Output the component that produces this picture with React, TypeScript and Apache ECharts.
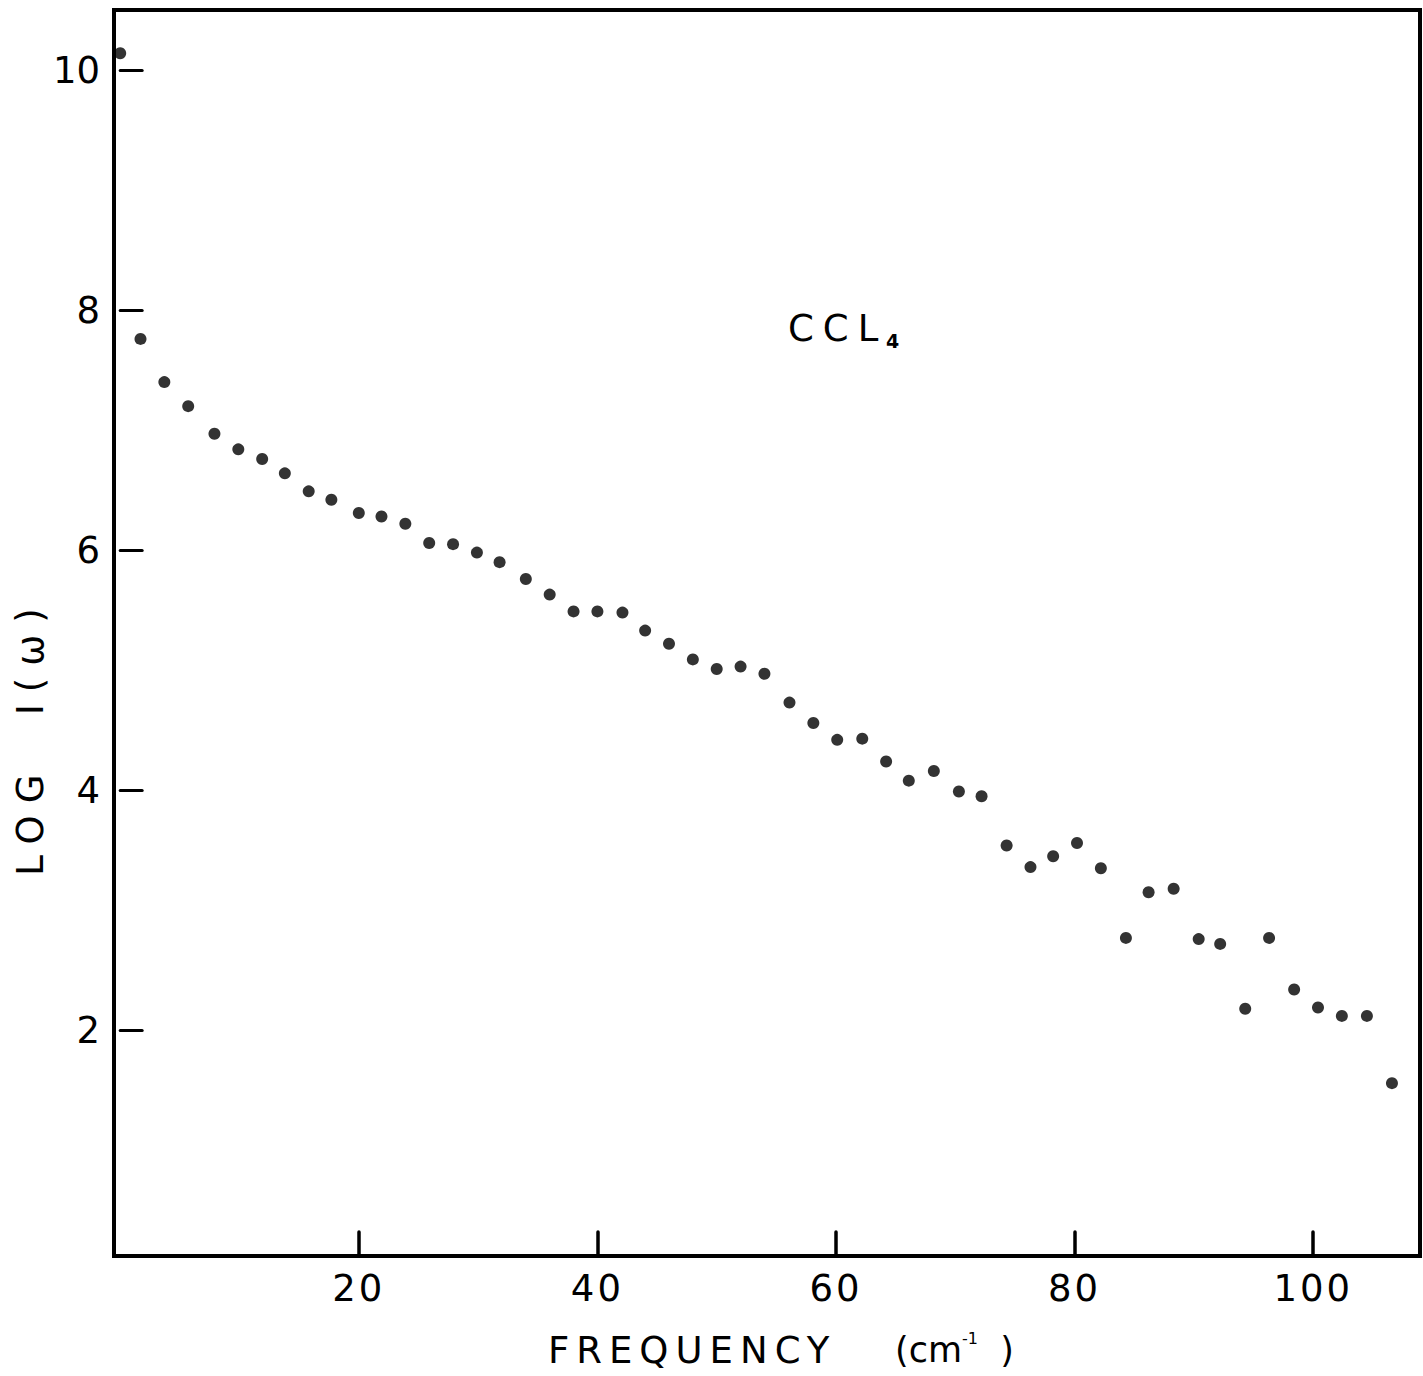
import React, { useEffect, useRef } from "react";
import * as echarts from "echarts";

// Frequency (cm^-1) of each measured point
const frequency = [
  0, 1.7, 3.7, 5.7, 7.9, 9.9, 11.9, 13.8, 15.8, 17.7,
  20.0, 21.9, 23.9, 25.9, 27.9, 29.9, 31.8, 34.0, 36.0, 38.0,
  40.0, 42.1, 44.0, 46.0, 48.0, 50.0, 52.0, 54.0, 56.1, 58.1,
  60.1, 62.2, 64.2, 66.1, 68.2, 70.3, 72.2, 74.3, 76.3, 78.2,
  80.2, 82.2, 84.3, 86.2, 88.3, 90.4, 92.2, 94.3, 96.3, 98.4,
  100.4, 102.4, 104.5, 106.6,
];

// LOG I(w) of each point
const logIntensity = [
  10.14, 7.76, 7.4, 7.2, 6.97, 6.84, 6.76, 6.64, 6.49, 6.42,
  6.31, 6.28, 6.22, 6.06, 6.05, 5.98, 5.9, 5.76, 5.63, 5.49,
  5.49, 5.48, 5.33, 5.22, 5.09, 5.01, 5.03, 4.97, 4.73, 4.56,
  4.42, 4.43, 4.24, 4.08, 4.16, 3.99, 3.95, 3.54, 3.36, 3.45,
  3.56, 3.35, 2.77, 3.15, 3.18, 2.76, 2.72, 2.18, 2.77, 2.34,
  2.19, 2.12, 2.12, 1.56,
];

const xTickValues = [20, 40, 60, 80, 100];
const yTickValues = [2, 4, 6, 8, 10];

const FONT = "DejaVu Sans";

const letterSpacings: Record<string, string> = {
  FREQUENCY: "7px",
  "LOG  I(ω)": "12px",
  CCL: "9px",
  "20": "3px",
  "40": "3px",
  "60": "3px",
  "80": "3px",
  "100": "3px",
};

function applySpacing(root: HTMLElement | null) {
  if (!root) return;
  root.querySelectorAll("text").forEach((t) => {
    const s = letterSpacings[t.textContent || ""];
    if (s) {
      (t as SVGTextElement).style.letterSpacing = s;
      (t as SVGTextElement).style.whiteSpace = "pre";
    }
  });
}

export default function App() {
  const ref = useRef<HTMLDivElement>(null);

  useEffect(() => {
    if (!ref.current) return;
    const chart = echarts.init(ref.current, null, { renderer: "svg" });
    const points = frequency.map((f, i) => [f, logIntensity[i]]);

    const labelStyle = {
      fontSize: 37,
      fontFamily: FONT,
      color: "#000",
    };

    chart.setOption({
      animation: false,
      backgroundColor: "#fff",
      grid: {
        left: 114,
        top: 10,
        width: 1306,
        height: 1246,
        show: true,
        borderColor: "#000",
        borderWidth: 4,
        backgroundColor: "transparent",
      },
      xAxis: {
        type: "value",
        min: -0.52,
        max: 108.95,
        axisLine: { show: false },
        splitLine: { show: false },
        axisTick: {
          show: true,
          inside: true,
          length: 24,
          customValues: xTickValues,
          lineStyle: { color: "#000", width: 3.5, cap: "round" },
        },
        axisLabel: {
          ...labelStyle,
          margin: 14,
          customValues: xTickValues,
        },
      },
      yAxis: {
        type: "value",
        min: 0.12,
        max: 10.5,
        axisLine: { show: false },
        splitLine: { show: false },
        axisTick: {
          show: true,
          inside: true,
          length: 22,
          customValues: yTickValues,
          lineStyle: { color: "#000", width: 3, cap: "round" },
        },
        axisLabel: {
          ...labelStyle,
          margin: 14,
          customValues: yTickValues,
        },
      },
      graphic: [
        {
          type: "text",
          x: 788,
          y: 328,
          style: {
            text: "CCL",
            fontSize: 37,
            fontFamily: FONT,
            fill: "#000",
            align: "left",
            verticalAlign: "middle",
          },
        },
        {
          type: "text",
          x: 886,
          y: 341,
          style: {
            text: "4",
            fontSize: 19,
            fontWeight: "bold",
            fontFamily: FONT,
            fill: "#000",
            align: "left",
            verticalAlign: "middle",
          },
        },
        {
          type: "text",
          x: 30,
          y: 736,
          rotation: Math.PI / 2,
          style: {
            text: "LOG  I(ω)",
            fontSize: 37,
            fontFamily: FONT,
            fill: "#000",
            align: "center",
            verticalAlign: "middle",
          },
        },
        {
          type: "text",
          x: 548,
          y: 1350,
          style: {
            text: "FREQUENCY",
            fontSize: 37,
            fontFamily: FONT,
            fill: "#000",
            align: "left",
            verticalAlign: "middle",
          },
        },
        {
          type: "text",
          x: 895,
          y: 1350,
          style: {
            text: "{n|(cm}{s|-1}{n|  )}",
            fontFamily: FONT,
            fill: "#000",
            align: "left",
            verticalAlign: "middle",
            rich: {
              n: { fontSize: 35, fontFamily: FONT, fill: "#000", lineHeight: 40 },
              s: {
                fontSize: 16,
                fontFamily: FONT,
                fill: "#000",
                lineHeight: 16,
                verticalAlign: "top",
              },
            },
          },
        },
      ],
      series: [
        {
          type: "scatter",
          data: points,
          symbol: "circle",
          symbolSize: 12,
          clip: false,
          itemStyle: { color: "#000" },
        },
      ],
    });

    applySpacing(ref.current);
    const onFinished = () => applySpacing(ref.current);
    chart.on("finished", onFinished);
    const raf = requestAnimationFrame(() => applySpacing(ref.current));

    return () => {
      cancelAnimationFrame(raf);
      chart.off("finished", onFinished);
      chart.dispose();
    };
  }, []);

  return (
    <div
      ref={ref}
      style={{
        position: "fixed",
        left: 0,
        top: 0,
        width: 1423,
        height: 1376,
        background: "#fff",
      }}
    />
  );
}
